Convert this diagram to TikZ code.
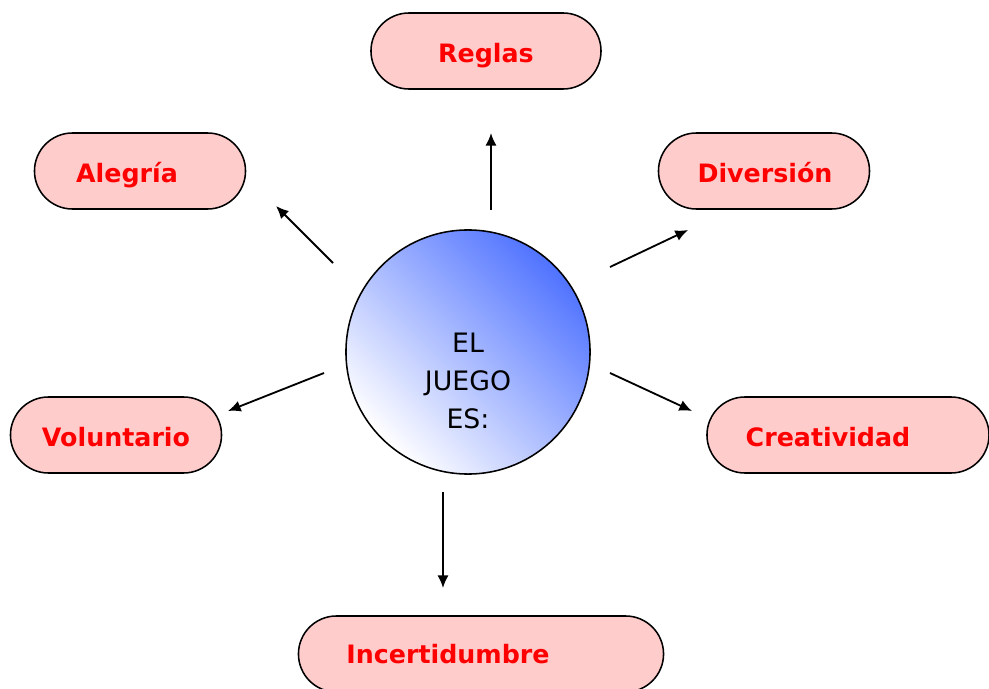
\documentclass[tikz,border=0pt]{standalone}
\usepackage{fontspec}
\setmainfont{DejaVu Sans}
\usetikzlibrary{shapes.misc,arrows.meta}
\definecolor{rosa}{RGB}{255,204,204}
\definecolor{azul}{RGB}{80,115,255}

\begin{document}
\begin{tikzpicture}[x=0.025cm,y=-0.025cm,
idea/.style={rounded rectangle,draw,line width=1.1pt,fill=rosa,minimum height=1.9cm,inner sep=0pt},
rotulo/.style={anchor=base,text=red,font=\bfseries\fontsize{18}{21}\selectfont},
flecha/.style={-{Latex[length=9pt,width=8pt]},line width=1.3pt}]
\useasboundingbox (0,0) rectangle (989,689);

% el centro
\node[circle,draw,line width=1.1pt,minimum size=6.1cm,shading=axis,top color=azul,bottom color=white,shading angle=-45] (juego) at (468,352) {};
\node[align=center,font=\fontsize{19}{27}\selectfont] (texto) at (468,381) {EL\\JUEGO\\ES:};

% las cajas
\node[idea,minimum width=5.75cm] (reglas) at (486,51) {};
\node[idea,minimum width=5.275cm] (alegria) at (140,171) {};
\node[idea,minimum width=5.275cm] (diversion) at (764,171) {};
\node[idea,minimum width=5.275cm] (voluntario) at (116,435) {};
\node[idea,minimum width=7.05cm] (creatividad) at (848,435) {};
\node[idea,minimum width=9.125cm] (incertidumbre) at (481,654) {};

\node[rotulo] (t1) at (486,63) {Reglas};
\node[rotulo] (t2) at (127,183) {Alegría};
\node[rotulo] (t3) at (765,183) {Diversión};
\node[rotulo] (t4) at (116,447) {Voluntario};
\node[rotulo] (t5) at (828,447) {Creatividad};
\node[rotulo] (t6) at (448,663) {Incertidumbre};

% flechas
\coordinate (a1) at (491,210); \coordinate (b1) at (491,133);
\coordinate (a2) at (333,263); \coordinate (b2) at (276,206);
\coordinate (a3) at (610,267); \coordinate (b3) at (688,230);
\coordinate (a4) at (324,373); \coordinate (b4) at (228,411);
\coordinate (a5) at (610,373); \coordinate (b5) at (692,411);
\coordinate (a6) at (443,492); \coordinate (b6) at (443,588);
\foreach \i in {1,...,6}
  \draw[flecha] (a\i) -- (b\i);
\end{tikzpicture}
\end{document}
